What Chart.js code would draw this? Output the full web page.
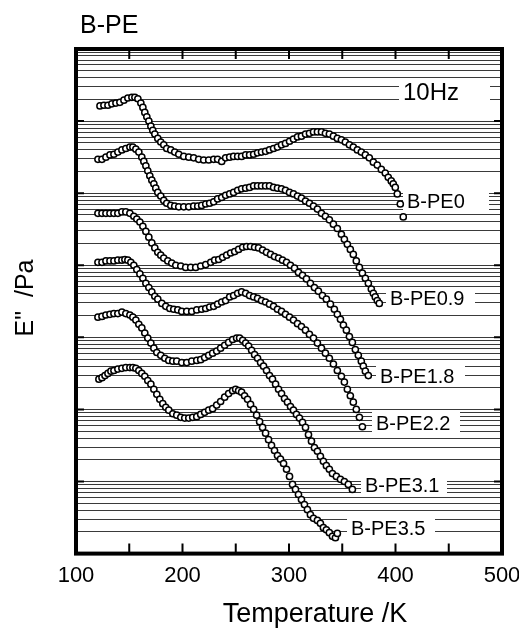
<!DOCTYPE html>
<html>
<head>
<meta charset="utf-8">
<script src="https://cdn.jsdelivr.net/npm/chart.js@4.4.1/dist/chart.umd.min.js"></script>
<style>
  html, body { margin: 0; padding: 0; background: #ffffff; }
  #wrap { width: 519px; height: 628px; }
</style>
</head>
<body>
<div id="wrap"><canvas id="chart"></canvas></div>
<script>
// E'' curves (temperature in K, log10 of E'' in Pa, curves shifted)
const seriesNames = ['B-PE0', 'B-PE0.9', 'B-PE1.8', 'B-PE2.2', 'B-PE3.1', 'B-PE3.5'];
const xTickValues = [100, 200, 300, 400, 500];

const pe0T = [122.5,126.2,130.0,133.7,137.5,141.2,145.0,148.7,152.5,155.3,158.1,160.9,162.8,164.6,166.5,168.4,170.3,172.1,174.0,176.8,179.6,182.4,185.2,189.0,192.7,196.5,201.2,205.9,210.5,215.2,219.9,224.6,229.3,233.0,236.8,240.5,244.3,248.0,251.8,255.5,259.3,263.0,266.8,270.5,274.2,278.0,281.7,285.5,289.2,293.0,296.7,300.5,304.2,308.0,311.7,315.5,319.2,323.0,326.7,330.5,334.2,337.9,341.7,345.4,349.2,352.9,356.7,360.4,364.2,367.9,371.7,375.4,379.2,382.9,386.7,390.4,393.2,396.0,397.9,399.8,401.7,404.5,407.3];
const pe0LogE = [10.21,10.22,10.22,10.24,10.25,10.26,10.29,10.32,10.33,10.33,10.31,10.25,10.19,10.12,10.06,10.00,9.93,9.87,9.82,9.76,9.71,9.67,9.62,9.60,9.57,9.54,9.51,9.50,9.49,9.47,9.46,9.46,9.47,9.47,9.44,9.49,9.50,9.51,9.51,9.51,9.53,9.53,9.54,9.56,9.57,9.58,9.60,9.62,9.64,9.67,9.69,9.72,9.75,9.78,9.79,9.82,9.83,9.85,9.85,9.85,9.83,9.82,9.79,9.76,9.74,9.71,9.67,9.64,9.60,9.57,9.53,9.49,9.43,9.39,9.33,9.28,9.22,9.17,9.13,9.08,8.99,8.85,8.67];

const pe09T = [120.6,124.4,128.1,131.9,135.6,139.3,143.1,146.8,150.6,153.4,156.2,159.0,161.8,163.7,165.6,167.4,169.3,171.2,173.1,174.9,176.8,179.6,182.4,185.2,189.0,192.7,196.5,201.2,205.9,210.5,214.3,218.0,221.8,225.5,229.3,233.0,236.8,240.5,244.3,248.0,251.8,255.5,259.3,263.0,266.8,270.5,274.2,278.0,281.7,285.5,289.2,293.0,296.7,300.5,304.2,308.0,311.7,315.5,319.2,323.0,326.7,330.5,334.2,337.9,341.7,345.4,349.2,352.0,354.8,357.6,360.4,363.2,366.1,368.9,371.7,374.5,377.3,379.2,381.0,382.9,384.8];
const pe09LogE = [9.47,9.47,9.50,9.53,9.54,9.57,9.60,9.62,9.64,9.64,9.61,9.57,9.50,9.44,9.38,9.31,9.24,9.18,9.13,9.07,9.01,8.96,8.90,8.86,8.83,8.82,8.81,8.81,8.81,8.82,8.82,8.83,8.85,8.86,8.88,8.92,8.94,8.97,8.99,9.01,9.04,9.06,9.07,9.08,9.10,9.10,9.10,9.10,9.10,9.08,9.07,9.06,9.04,9.01,8.99,8.96,8.93,8.89,8.86,8.82,8.78,8.72,8.68,8.63,8.57,8.51,8.43,8.36,8.29,8.22,8.15,8.06,7.97,7.89,7.82,7.75,7.67,7.61,7.56,7.51,7.47];

const pe18T = [120.6,124.4,128.1,131.9,135.6,139.3,143.1,146.8,150.6,154.3,157.1,160.0,162.8,165.6,168.4,171.2,174.0,176.8,179.6,182.4,186.2,189.9,193.7,198.4,203.0,207.7,212.4,217.1,221.8,226.5,230.2,234.0,237.7,241.5,245.2,249.0,252.7,256.5,260.2,263.9,267.7,271.4,275.2,278.9,282.7,286.4,290.2,293.9,297.7,301.4,305.2,308.9,312.7,316.4,320.1,323.9,327.6,331.4,335.1,338.9,342.6,345.4,348.3,351.1,353.9,356.7,359.5,362.3,365.1,367.9,369.8,371.7,374.5];
const pe18LogE = [8.72,8.72,8.72,8.72,8.72,8.72,8.74,8.74,8.72,8.68,8.64,8.60,8.54,8.47,8.39,8.31,8.24,8.18,8.14,8.10,8.06,8.03,8.00,7.99,7.97,7.97,7.97,7.99,8.01,8.04,8.07,8.08,8.11,8.14,8.17,8.19,8.22,8.25,8.26,8.26,8.25,8.24,8.21,8.18,8.15,8.12,8.10,8.07,8.04,8.00,7.96,7.90,7.86,7.81,7.75,7.69,7.64,7.58,7.53,7.46,7.39,7.32,7.25,7.17,7.10,7.01,6.93,6.83,6.75,6.67,6.60,6.53,6.47];

const pe22T = [120.6,124.4,128.1,131.9,135.6,139.3,143.1,145.9,148.7,151.5,154.3,157.1,160.0,162.8,165.6,168.4,171.2,174.0,176.8,180.6,184.3,188.1,191.8,195.6,199.3,204.0,208.7,213.4,218.0,221.8,225.5,229.3,233.0,236.8,240.5,244.3,248.0,251.8,255.5,259.3,263.0,266.8,270.5,274.2,278.0,281.7,285.5,289.2,293.0,296.7,300.5,304.2,308.0,311.7,315.5,319.2,323.0,326.7,330.5,334.2,337.9,341.7,345.4,349.2,352.0,354.8,357.6,360.4,363.2,366.1,368.9];
const pe22LogE = [8.04,8.04,8.06,8.06,8.06,8.07,8.07,8.08,8.07,8.04,8.00,7.94,7.88,7.82,7.75,7.69,7.63,7.57,7.53,7.47,7.43,7.40,7.39,7.38,7.36,7.36,7.36,7.38,7.39,7.40,7.42,7.43,7.46,7.49,7.51,7.56,7.58,7.61,7.63,7.61,7.58,7.56,7.54,7.51,7.49,7.46,7.43,7.39,7.36,7.32,7.28,7.24,7.19,7.15,7.10,7.04,6.99,6.92,6.85,6.78,6.71,6.63,6.54,6.46,6.38,6.28,6.19,6.10,6.00,5.89,5.76];

const pe31T = [120.6,124.4,128.1,131.9,135.6,139.3,143.1,146.8,150.6,153.4,156.2,159.0,161.8,164.6,167.4,170.3,173.1,175.9,179.6,183.4,187.1,190.9,194.6,199.3,204.0,208.7,213.4,217.1,220.8,224.6,228.3,232.1,235.8,239.6,243.3,247.1,250.8,253.6,256.5,259.3,262.1,264.9,267.7,270.5,273.3,276.1,278.9,281.7,284.5,287.4,290.2,293.0,295.8,298.6,301.4,304.2,307.0,309.8,312.7,315.5,318.3,321.1,323.9,326.7,329.5,332.3,335.1,337.9,340.8,344.5,348.3,352.0,355.7,359.5];
const pe31LogE = [7.28,7.29,7.31,7.32,7.33,7.33,7.35,7.33,7.31,7.28,7.24,7.18,7.13,7.06,6.99,6.92,6.85,6.79,6.75,6.71,6.68,6.67,6.67,6.65,6.65,6.67,6.68,6.69,6.72,6.75,6.78,6.81,6.85,6.89,6.93,6.97,6.99,6.99,6.96,6.92,6.88,6.82,6.76,6.71,6.65,6.60,6.54,6.47,6.42,6.35,6.28,6.22,6.15,6.10,6.04,5.99,5.93,5.88,5.82,5.75,5.65,5.56,5.47,5.42,5.35,5.28,5.22,5.17,5.11,5.07,5.03,5.00,4.96,4.89];

const pe35T = [121.5,124.4,127.2,130.0,132.8,135.6,139.3,143.1,146.8,150.6,153.4,156.2,159.0,161.8,164.6,167.4,170.3,173.1,175.9,178.7,181.5,184.3,187.1,190.9,194.6,198.4,202.1,205.9,209.6,213.4,217.1,220.8,224.6,228.3,232.1,235.8,239.6,243.3,247.1,249.9,252.7,255.5,258.3,261.1,263.9,266.8,269.6,272.4,275.2,278.0,280.8,283.6,286.4,289.2,292.0,294.9,297.7,300.5,303.3,306.1,308.9,311.7,314.5,317.3,320.1,323.0,326.7,329.5,332.3,335.1,337.9,340.8,343.6,345.4];
const pe35LogE = [6.42,6.44,6.47,6.50,6.53,6.54,6.56,6.57,6.58,6.58,6.58,6.57,6.54,6.50,6.46,6.40,6.35,6.28,6.21,6.14,6.08,6.03,5.99,5.94,5.92,5.89,5.88,5.88,5.89,5.90,5.93,5.96,5.99,6.01,6.06,6.11,6.17,6.22,6.26,6.28,6.26,6.24,6.19,6.14,6.07,6.00,5.92,5.83,5.75,5.67,5.58,5.50,5.43,5.36,5.31,5.25,5.17,5.07,4.96,4.89,4.82,4.75,4.68,4.61,4.54,4.49,4.46,4.42,4.36,4.33,4.29,4.24,4.22,4.28];

const seriesT = [pe0T, pe09T, pe18T, pe22T, pe31T, pe35T];
const seriesLogE = [pe0LogE, pe09LogE, pe18LogE, pe22LogE, pe31LogE, pe35LogE];

const FONT = "'Liberation Sans', Arial, Helvetica, sans-serif";

// where the curve names sit (left x, baseline y, right end of white gap)
const nameSpots = [
    { x: 407, y: 208, r: 489 },
    { x: 390, y: 305, r: 475 },
    { x: 380, y: 383, r: 465 },
    { x: 376, y: 430, r: 460 },
    { x: 365, y: 492, r: 447 },
    { x: 351, y: 535, r: 435 }
];

const datasets = seriesNames.map((name, i) => ({
    label: name,
    data: seriesT[i].map((t, j) => ({ x: t, y: Math.pow(10, seriesLogE[i][j]) })),
    showLine: false,
    pointStyle: 'circle',
    pointRadius: 3.1,
    pointBorderWidth: 1.5,
    pointBorderColor: '#000000',
    pointBackgroundColor: '#ffffff'
}));

// inward tick marks, frame and all the free text
const decoPlugin = {
    id: 'deco',
    beforeDatasetsDraw(chart) {
        const ctx = chart.ctx;
        ctx.save();
        ctx.fillStyle = '#ffffff';
        nameSpots.forEach(s => ctx.fillRect(s.x - 4, s.y - 18, s.r - s.x + 4, 22));
        ctx.fillRect(399, 80, 91, 25);
        ctx.restore();
    },
    afterDraw(chart) {
        const ctx = chart.ctx;
        const a = chart.chartArea;
        const xs = chart.scales.x;
        const ys = chart.scales.y;
        ctx.save();
        ctx.strokeStyle = '#000000';

        // x ticks every 50 K, top and bottom
        ctx.lineWidth = 2;
        for (let t = 150; t < 500; t += 50) {
            const px = xs.getPixelForValue(t);
            ctx.beginPath();
            ctx.moveTo(px, a.bottom); ctx.lineTo(px, a.bottom - 10);
            ctx.moveTo(px, a.top); ctx.lineTo(px, a.top + 10);
            ctx.stroke();
        }
        // decade ticks left and right
        for (let e = 5; e <= 10; e++) {
            const py = ys.getPixelForValue(Math.pow(10, e));
            ctx.beginPath();
            ctx.moveTo(a.left, py); ctx.lineTo(a.left + 8, py);
            ctx.moveTo(a.right, py); ctx.lineTo(a.right - 8, py);
            ctx.stroke();
        }

        // frame
        ctx.lineWidth = 4;
        ctx.strokeRect(a.left, a.top, a.right - a.left, a.bottom - a.top);

        // texts
        ctx.fillStyle = '#000000';
        ctx.textBaseline = 'alphabetic';
        ctx.textAlign = 'left';
        ctx.font = '25px ' + FONT;
        ctx.fillText('B-PE', 80, 33);
        ctx.font = '24px ' + FONT;
        ctx.fillText('10Hz', 403, 100);
        ctx.font = '20px ' + FONT;
        seriesNames.forEach((n, i) => ctx.fillText(n, nameSpots[i].x, nameSpots[i].y));

        ctx.textAlign = 'center';
        ctx.font = '27px ' + FONT;
        ctx.fillText('Temperature /K', 315, 622);

        ctx.translate(33, 298);
        ctx.rotate(-Math.PI / 2);
        ctx.font = '25px ' + FONT;
        ctx.fillText('E"  /Pa', 0, 0);
        ctx.restore();
    }
};

new Chart(document.getElementById('chart'), {
    type: 'scatter',
    data: { datasets: datasets },
    options: {
        responsive: true,
        maintainAspectRatio: false,
        animation: false,
        layout: { padding: { left: 76, right: 17, top: 49, bottom: 30 } },
        plugins: {
            legend: { display: false },
            tooltip: { enabled: false }
        },
        scales: {
            x: {
                type: 'linear',
                min: 100,
                max: 500,
                afterBuildTicks: (scale) => {
                    scale.ticks = xTickValues.map(v => ({ value: v }));
                },
                // let the end labels hang outside the frame
                afterFit: (scale) => {
                    scale.paddingLeft = 0;
                    scale.paddingRight = 0;
                },
                ticks: {
                    color: '#000000',
                    padding: 9,
                    maxRotation: 0,
                    autoSkip: false,
                    font: { family: FONT, size: 22 }
                },
                grid: { display: false, drawTicks: false },
                border: { display: false }
            },
            y: {
                type: 'logarithmic',
                min: 1e4,
                max: 1e11,
                afterBuildTicks: (scale) => {
                    const ticks = [];
                    for (let e = 4; e <= 10; e++) {
                        for (let k = 1; k <= 9; k++) ticks.push({ value: k * Math.pow(10, e) });
                    }
                    ticks.push({ value: 1e11 });
                    scale.ticks = ticks;
                },
                ticks: { display: false },
                grid: { color: '#3a3a3a', lineWidth: 1, drawTicks: false },
                border: { display: false }
            }
        }
    },
    plugins: [decoPlugin]
});
</script>
</body>
</html>
